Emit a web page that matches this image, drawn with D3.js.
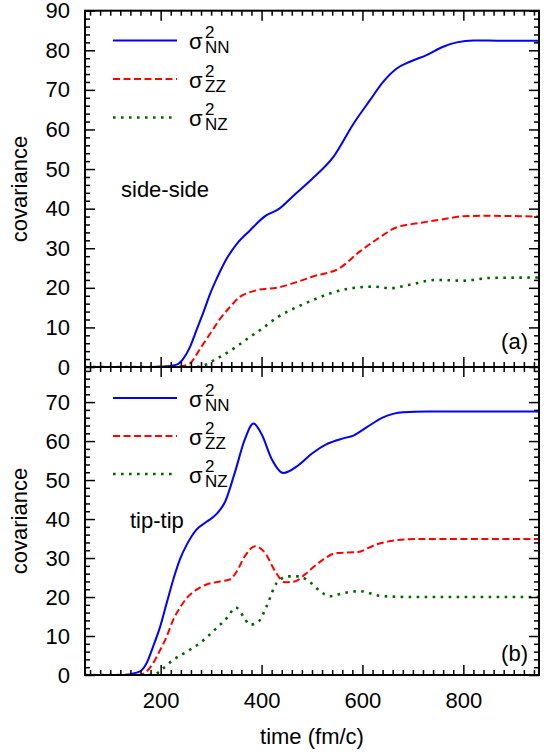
<!DOCTYPE html>
<html><head><meta charset="utf-8">
<script src="https://cdn.jsdelivr.net/npm/d3@7"></script>
<style>body{margin:0;background:#fff}text{font-family:"Liberation Sans",Arial,Helvetica,sans-serif}</style>
</head><body><svg id="c" width="553" height="752"></svg>
<script>
// ---- data ----
const xTicks = [200, 400, 600, 800];
const yTicksTop = [0, 10, 20, 30, 40, 50, 60, 70, 80, 90];
const yTicksBot = [0, 10, 20, 30, 40, 50, 60, 70];
const seriesNames = ["NN", "ZZ", "NZ"];
const panelLabels = ["(a)", "(b)"];
const panelTitles = ["side-side", "tip-tip"];

// top panel (side-side)
const tTopNN = [50,150,180,205,232,245,258,271,285,298,311,331,351,377,407,433,466,500,542,582,615,641,668,694,727,760,787,820,880,950];
const vTopNN = [0,0,0.02,0.1,0.6,2.1,5.0,9.3,13.9,18.5,22.3,27.4,31.1,34.5,38.1,39.8,43.6,47.5,53,61.4,67.4,72,75.4,77.1,78.8,80.9,82,82.5,82.4,82.4];
const tTopZZ = [50,225,238,258,278,298,318,337,357,377,394,433,473,500,555,595,628,668,714,760,800,840,950];
const vTopZZ = [0,0,0.1,0.9,4.6,8.4,12.2,15.1,17.7,18.9,19.5,20.1,21.6,22.8,25,29.2,32.2,35.3,36.4,37.3,38.1,38.2,38];
const tTopNZ = [50,265,278,311,351,377,397,433,473,500,536,569,622,655,694,747,800,853,950];
const vTopNZ = [0,0,0.1,2.1,5.2,7.6,9.3,12.7,15.3,16.8,18.6,19.7,20.3,19.9,20.8,22,21.8,22.5,22.6];

// bottom panel (tip-tip)
const tBotNN = [50,130,139,159,172,185,199,212,225,238,252,271,291,310,328,347,367,384,400,420,443,473,500,529,562,582,608,641,681,727,950];
const vBotNN = [0,0,0.2,0.9,3.0,7.3,12.4,18.5,24.5,29.6,33.5,37.3,39.3,41.2,44.5,51.9,60.5,64.5,61.8,55.4,51.8,53.8,56.8,59.2,60.7,61.4,63.5,66.1,67.4,67.6,67.6];
const tBotZZ = [50,150,159,172,185,199,212,225,238,252,271,291,318,337,351,367,387,407,427,446,466,486,506,522,549,589,628,668,714,950];
const vBotZZ = [0,0,0,0.9,3.0,6.4,9.9,14.2,17.2,19.8,21.9,23.2,24.0,24.5,26.6,30.5,33,31.3,26.6,23.8,24,25.8,28,29.6,31.3,31.5,33.5,34.6,34.9,34.9];
const tBotNZ = [50,180,187,205,225,252,278,304,331,349,364,377,394,410,430,453,473,498,516,536,562,595,635,694,950];
const vBotNZ = [0,0,0.1,1.7,3.9,6.0,8.2,11.2,14.6,17.3,15,12.9,13.7,17.6,23.6,25.3,25.3,23.6,21.5,20.2,21,21.5,20.3,20,20];

// ---- layout ----
const svg = d3.select("#c");
const L = 85, R = 539;
const x = d3.scaleLinear().domain([50, 950]).range([L, R]);
const styles = {
  NN: {color: "#0000ff", dash: null, w: 2},
  ZZ: {color: "#ff0000", dash: "7,3.5", w: 2},
  NZ: {color: "#006400", dash: "2.6,5.4", w: 2.6}
};
const panels = [
  {top: 10.7, bot: 367, ymax: 90, yt: yTicksTop, data: {NN:[tTopNN,vTopNN], ZZ:[tTopZZ,vTopZZ], NZ:[tTopNZ,vTopNZ]}, legY: [40.5, 79, 117.5], titleXY: [121, 197], labY: 349, ylabY: 189, xlabels: false},
  {top: 367, bot: 675, ymax: 79, yt: yTicksBot, data: {NN:[tBotNN,vBotNN], ZZ:[tBotZZ,vBotZZ], NZ:[tBotNZ,vBotNZ]}, legY: [398, 436, 474], titleXY: [130, 528], labY: 661, ylabY: 521, xlabels: true}
];

panels.forEach((p, i) => {
  const y = d3.scaleLinear().domain([0, p.ymax]).range([p.bot, p.top]);
  const clipId = "clip" + i;
  svg.append("clipPath").attr("id", clipId).append("rect")
    .attr("x", L).attr("y", p.top).attr("width", R - L).attr("height", p.bot - p.top);

  const g = svg.append("g");
  const line = d3.line().x(d => x(d[0])).y(d => y(d[1])).curve(d3.curveMonotoneX);
  seriesNames.forEach(s => {
    const [ts, vs] = p.data[s];
    const pts = ts.map((t, k) => [t, vs[k]]);
    const st = styles[s];
    g.append("path").attr("d", line(pts)).attr("clip-path", `url(#${clipId})`)
      .attr("fill", "none").attr("stroke", st.color).attr("stroke-width", st.w)
      .attr("stroke-dasharray", st.dash);
  });

  const minorX = d3.range(60, 950, 20).filter(v => v % 200 !== 0);
  const minorY = d3.range(0, p.ymax + 0.001, 2).filter(v => v % 10 !== 0);
  const addAxis = (gen, tr) => {
    const a = svg.append("g").attr("transform", tr).call(gen);
    a.select(".domain").remove();
    a.selectAll("line").attr("stroke", "#000").attr("stroke-width", 1.5);
    a.selectAll("text").attr("font-size", 22).attr("fill", "#000")
      .attr("font-family", "Liberation Sans, Arial, sans-serif");
    return a;
  };
  addAxis(d3.axisBottom(x).tickValues(xTicks).tickSize(-10).tickPadding(17)
    .tickFormat(p.xlabels ? d3.format("d") : () => ""), `translate(0,${p.bot})`);
  addAxis(d3.axisBottom(x).tickValues(minorX).tickSize(-5).tickFormat(() => ""), `translate(0,${p.bot})`);
  addAxis(d3.axisTop(x).tickValues(xTicks).tickSize(-10).tickFormat(() => ""), `translate(0,${p.top})`);
  addAxis(d3.axisTop(x).tickValues(minorX).tickSize(-5).tickFormat(() => ""), `translate(0,${p.top})`);
  addAxis(d3.axisLeft(y).tickValues(p.yt).tickSize(-10).tickPadding(15).tickFormat(d3.format("d")), `translate(${L},0)`);
  addAxis(d3.axisLeft(y).tickValues(minorY).tickSize(-5).tickFormat(() => ""), `translate(${L},0)`);
  addAxis(d3.axisRight(y).tickValues(p.yt).tickSize(-10).tickFormat(() => ""), `translate(${R},0)`);
  addAxis(d3.axisRight(y).tickValues(minorY).tickSize(-5).tickFormat(() => ""), `translate(${R},0)`);

  svg.append("rect").attr("x", L).attr("y", p.top).attr("width", R - L).attr("height", p.bot - p.top)
    .attr("fill", "none").attr("stroke", "#000").attr("stroke-width", 2);

  seriesNames.forEach((s, k) => {
    const ly = p.legY[k], st = styles[s];
    svg.append("line").attr("x1", 113).attr("x2", 177).attr("y1", ly).attr("y2", ly)
      .attr("stroke", st.color).attr("stroke-width", st.w).attr("stroke-dasharray", st.dash);
    svg.append("text").attr("x", 189).attr("y", ly + 8.6).attr("font-size", 22).text("σ");
    svg.append("text").attr("x", 205).attr("y", ly - 2.4).attr("font-size", 17).text("2");
    svg.append("text").attr("x", 205).attr("y", ly + 12.6).attr("font-size", 17).text(s);
  });

  svg.append("text").attr("x", p.titleXY[0]).attr("y", p.titleXY[1]).attr("font-size", 22).text(panelTitles[i]);
  svg.append("text").attr("x", 528).attr("y", p.labY).attr("text-anchor", "end").attr("font-size", 22).text(panelLabels[i]);
  svg.append("text").attr("transform", `translate(27,${p.ylabY}) rotate(-90)`)
    .attr("text-anchor", "middle").attr("font-size", 22).text("covariance");
});

svg.append("text").attr("x", 312).attr("y", 744).attr("text-anchor", "middle").attr("font-size", 22).text("time (fm/c)");
</script></body></html>
